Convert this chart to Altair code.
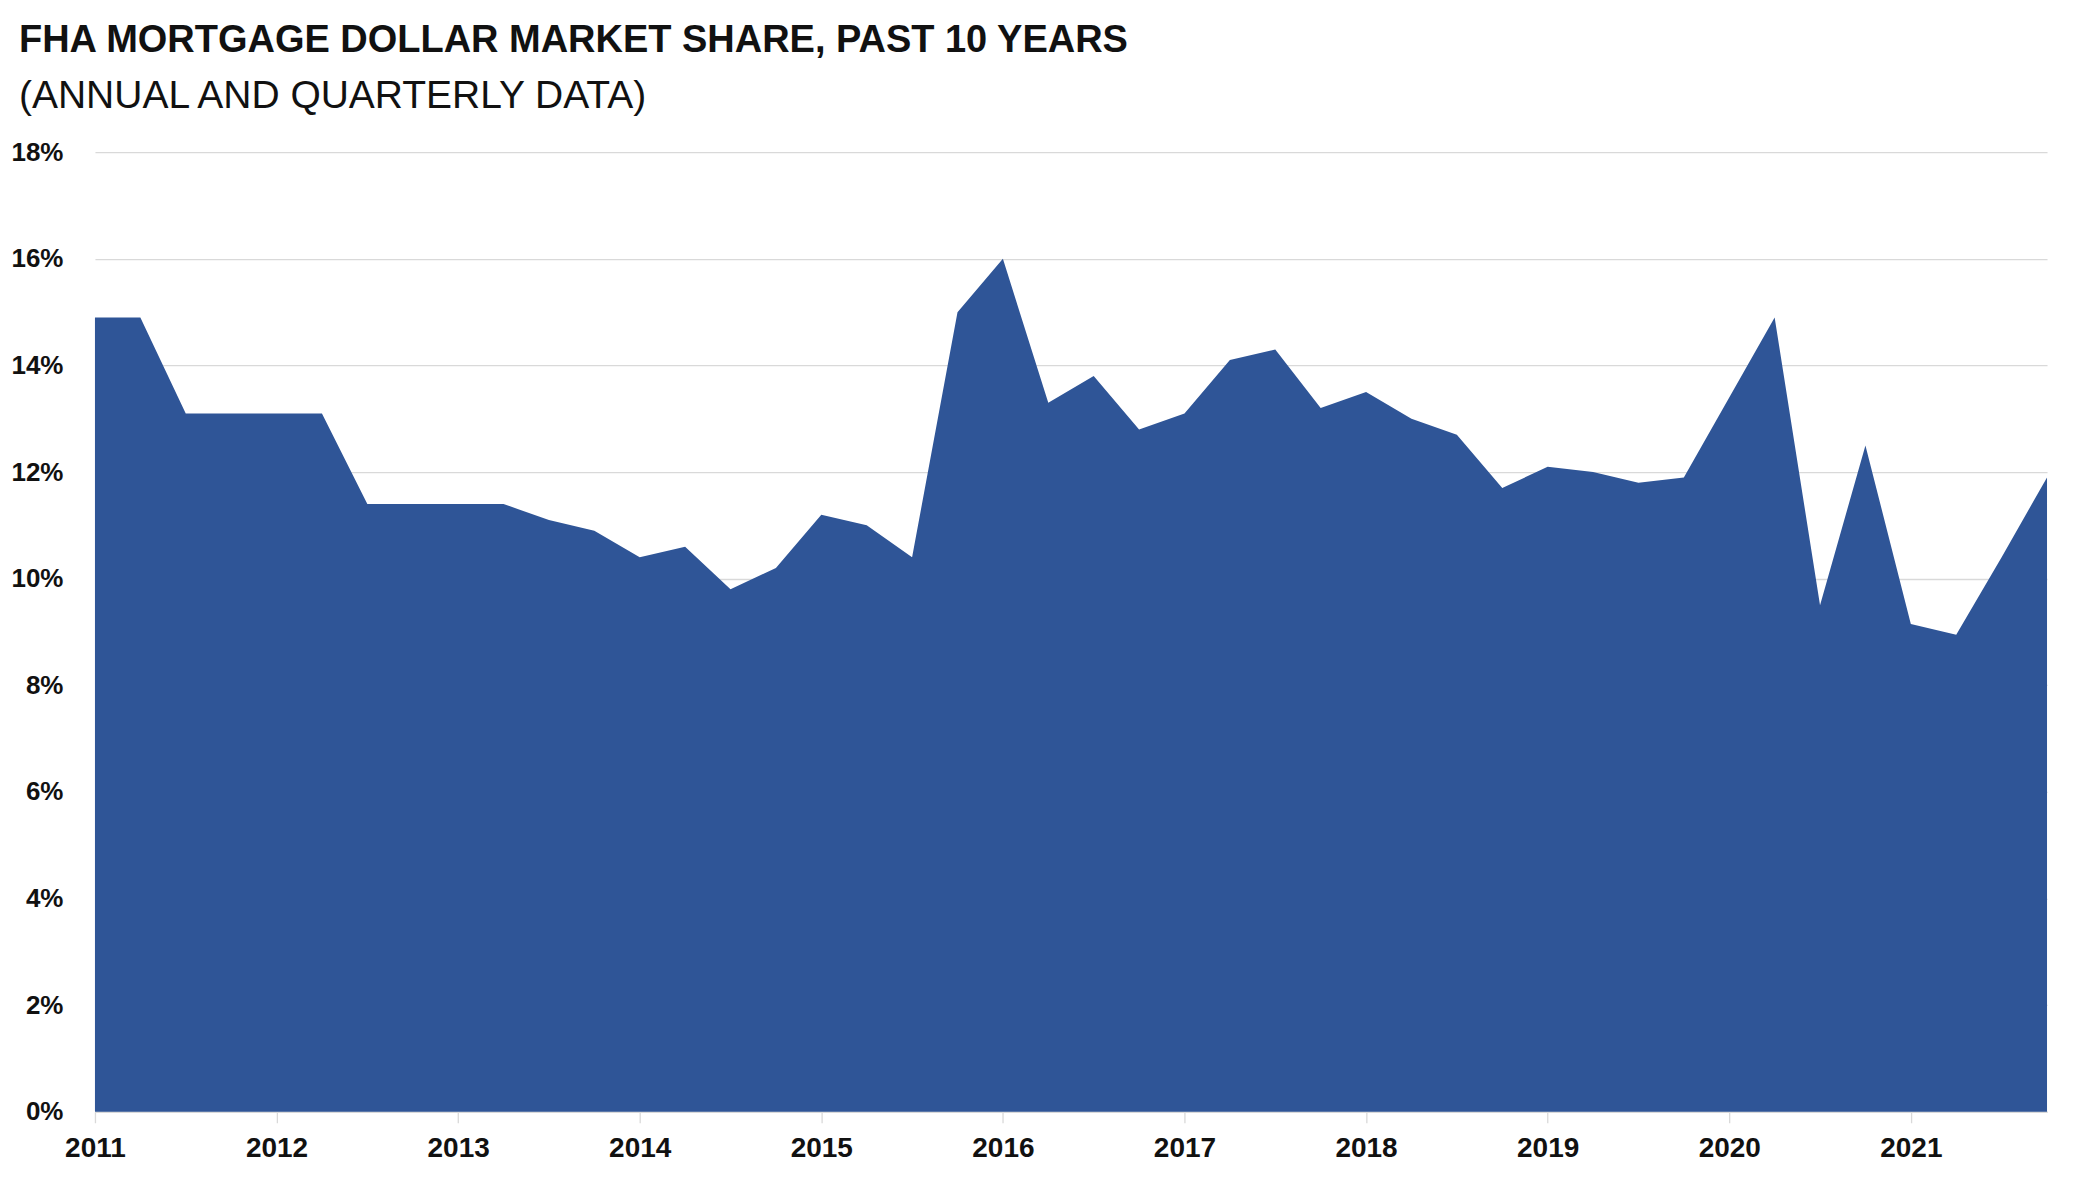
import altair as alt
import pandas as pd

# Quarterly FHA dollar market share (%), 2011 Q1 .. 2021 Q4
years = list(range(2011, 2022))
quarters = [1, 2, 3, 4]
share = [
    14.9, 14.9, 13.1, 13.1,   # 2011
    13.1, 13.1, 11.4, 11.4,   # 2012
    11.4, 11.4, 11.1, 10.9,   # 2013
    10.4, 10.6, 9.8, 10.2,    # 2014
    11.2, 11.0, 10.4, 15.0,   # 2015
    16.0, 13.3, 13.8, 12.8,   # 2016
    13.1, 14.1, 14.3, 13.2,   # 2017
    13.5, 13.0, 12.7, 11.7,   # 2018
    12.1, 12.0, 11.8, 11.9,   # 2019
    13.4, 14.9, 9.5, 12.5,    # 2020
    9.15, 8.95, 10.4, 11.9,   # 2021
]
y_ticks = [0, 2, 4, 6, 8, 10, 12, 14, 16, 18]

rows = []
k = 0
for yr in years:
    for q in quarters:
        rows.append({"t": yr + (q - 1) / 4, "share": share[k]})
        k += 1
df = pd.DataFrame(rows)

FONT = "Liberation Sans, Arial, sans-serif"
TXT = "#111111"
GRID = "#d9d9d9"

chart = (
    alt.Chart(df)
    .mark_area(color="#2F5597", interpolate="linear")
    .encode(
        x=alt.X(
            "t:Q",
            scale=alt.Scale(domain=[2011, 2021.75], nice=False, zero=False),
            axis=alt.Axis(
                values=years,
                format="d",
                title=None,
                grid=False,
                tickSize=11,
                tickColor=GRID,
                tickWidth=1.3,
                domainColor=GRID,
                domainWidth=1.3,
                labelFont=FONT,
                labelFontSize=28,
                labelFontWeight="bold",
                labelColor=TXT,
                labelPadding=12,
                labelFlush=False,
                labelOverlap=False,
            ),
        ),
        y=alt.Y(
            "share:Q",
            scale=alt.Scale(domain=[0, 18], nice=False),
            axis=alt.Axis(
                values=y_ticks,
                labelExpr="datum.value + '%'",
                title=None,
                domain=False,
                ticks=False,
                grid=True,
                gridColor=GRID,
                gridWidth=1.3,
                labelFont=FONT,
                labelFontSize=26,
                labelFontWeight="bold",
                labelColor=TXT,
                labelPadding=32,
            ),
        ),
    )
    .properties(
        width=1953,
        height=960,
        autosize=alt.AutoSizeParams(type="none"),
        padding={"left": 87, "top": 144, "right": 40, "bottom": 50},
        title=alt.TitleParams(
            text="FHA MORTGAGE DOLLAR MARKET SHARE, PAST 10 YEARS",
            subtitle="(ANNUAL AND QUARTERLY DATA)",
            anchor="start",
            frame="group",
            dx=-76,
            offset=23,
            font=FONT,
            fontSize=38,
            fontWeight="bold",
            color=TXT,
            subtitleFont=FONT,
            subtitleFontSize=39,
            subtitleFontWeight="normal",
            subtitleColor=TXT,
            subtitlePadding=17,
        ),
    )
    .configure_view(stroke=None)
)

chart.save("out.html", embed_options={"renderer": "svg", "actions": False})
